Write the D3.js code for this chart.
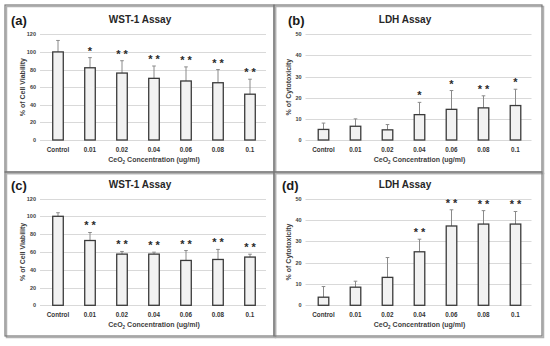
<!DOCTYPE html>
<html>
<head>
<meta charset="utf-8">
<script src="https://cdn.jsdelivr.net/npm/d3@7"></script>
<style>
  html, body { margin: 0; padding: 0; background: #fff; }
  svg { display: block; font-family: "Liberation Sans", Arial, sans-serif; }
</style>
</head>
<body>
<div id="chart"></div>
<script>
// Categories shared by all four panels
const categories = ['Control', '0.01', '0.02', '0.04', '0.06', '0.08', '0.1'];

// (a) WST-1 Assay
const wstA = [100, 82, 76, 70, 67, 65, 52];
const wstAErr = [113, 93.5, 90, 84, 83, 80, 69];
const wstAStars = ['', '*', '* *', '* *', '* *', '* *', '* *'];

// (b) LDH Assay
const ldhB = [5, 6.5, 4.8, 12, 14.5, 15.2, 16.3];
const ldhBErr = [8, 10, 7.3, 17.8, 23.4, 20.9, 24];
const ldhBStars = ['', '', '', '*', '*', '* *', '*'];

// (c) WST-1 Assay
const wstC = [100, 72.8, 57.5, 57.5, 50.4, 51.5, 54.2];
const wstCErr = [104, 81.8, 60.5, 59.7, 61.5, 62.8, 57.4];
const wstCStars = ['', '* *', '* *', '* *', '* *', '* *', '* *'];

// (d) LDH Assay
const ldhD = [3.8, 8.5, 13.1, 25.1, 37.2, 38.1, 38.1];
const ldhDErr = [8.8, 11.3, 22.4, 31, 44.8, 44.4, 44];
const ldhDStars = ['', '', '', '* *', '* *', '* *', '* *'];

const wstTicks = [0, 20, 40, 60, 80, 100, 120];
const ldhTicks = [0, 10, 20, 30, 40, 50];

const svg = d3.select('#chart').append('svg')
  .attr('width', 550).attr('height', 346);

// panel frames
const frames = [
  [5, 5, 269, 167], [274, 5, 268, 167],
  [5, 172, 269, 164], [274, 172, 268, 164]
];
frames.forEach(f => {
  svg.append('rect')
    .attr('x', f[0] + 1.5).attr('y', f[1] + 1.5)
    .attr('width', f[2]).attr('height', f[3])
    .attr('fill', 'none').attr('stroke', '#b0b0b0').attr('stroke-width', 1.5);
  svg.append('rect')
    .attr('x', f[0]).attr('y', f[1])
    .attr('width', f[2]).attr('height', f[3])
    .attr('fill', 'none').attr('stroke', '#7a7a7a').attr('stroke-width', 1.2);
});

function drawPanel(opt) {
  const g = svg.append('g');
  const x = d3.scaleBand().domain(categories)
    .range([opt.left, opt.left + 224]).paddingInner(0.67).paddingOuter(0.335);
  const y = d3.scaleLinear().domain([0, opt.max]).range([opt.bottom, opt.top]);

  // gridlines
  g.selectAll('.grid').data(opt.ticks).enter().append('line')
    .attr('x1', opt.left - 2).attr('x2', opt.left + 224)
    .attr('y1', d => Math.round(y(d)) + 0.5).attr('y2', d => Math.round(y(d)) + 0.5)
    .attr('stroke', '#d9d9d9').attr('stroke-width', 1);

  // y tick labels
  g.selectAll('.yt').data(opt.ticks).enter().append('text')
    .attr('x', opt.left - 6).attr('y', d => y(d) + 2)
    .attr('text-anchor', 'end')
    .attr('font-size', 5.5).attr('font-weight', 'bold').attr('fill', '#404040')
    .text(d => d);

  // error bars
  opt.err.forEach((e, i) => {
    const cx = x(categories[i]) + x.bandwidth() / 2;
    g.append('line')
      .attr('x1', cx).attr('x2', cx)
      .attr('y1', y(opt.values[i])).attr('y2', y(e))
      .attr('stroke', '#8a8a8a').attr('stroke-width', 1);
    g.append('line')
      .attr('x1', cx - 1.8).attr('x2', cx + 1.8)
      .attr('y1', y(e)).attr('y2', y(e))
      .attr('stroke', '#8a8a8a').attr('stroke-width', 1);
  });

  // bars
  g.selectAll('.bar').data(opt.values).enter().append('rect')
    .attr('x', (d, i) => x(categories[i]))
    .attr('y', d => y(d))
    .attr('width', x.bandwidth())
    .attr('height', d => opt.bottom - y(d))
    .attr('fill', '#f2f2f2')
    .attr('stroke', '#3a3a3a').attr('stroke-width', 1.3);

  // significance stars
  g.selectAll('.star').data(opt.stars).enter().append('text')
    .attr('x', (d, i) => x(categories[i]) + x.bandwidth() / 2)
    .attr('y', (d, i) => y(opt.err[i]) - 3)
    .attr('text-anchor', 'middle')
    .attr('font-size', 11).attr('font-weight', 'bold').attr('fill', '#2a2a2a')
    .text(d => d);

  // x tick labels
  g.selectAll('.xt').data(categories).enter().append('text')
    .attr('x', d => x(d) + x.bandwidth() / 2)
    .attr('y', opt.bottom + 12)
    .attr('text-anchor', 'middle')
    .attr('font-size', 6.3).attr('font-weight', 'bold').attr('fill', '#333')
    .text(d => d);

  // x axis title
  const xt = g.append('text')
    .attr('x', opt.left + 112).attr('y', opt.bottom + 22)
    .attr('text-anchor', 'middle')
    .attr('font-size', 7).attr('font-weight', 'bold').attr('fill', '#404040');
  xt.append('tspan').text('CeO');
  xt.append('tspan').attr('font-size', 4.5).attr('dy', 1.5).text('2');
  xt.append('tspan').attr('dy', -1.5).text(' Concentration (ug/ml)');

  // y axis title
  g.append('text')
    .attr('transform', `translate(${opt.left - 17},${(opt.top + opt.bottom) / 2}) rotate(-90)`)
    .attr('text-anchor', 'middle')
    .attr('font-size', 7).attr('font-weight', 'bold').attr('fill', '#404040')
    .text(opt.ytitle);

  // chart title
  g.append('text')
    .attr('x', opt.titleX).attr('y', opt.titleY)
    .attr('text-anchor', 'middle')
    .attr('font-size', 10).attr('font-weight', 'bold').attr('fill', '#262626')
    .text(opt.title);

  // panel letter
  g.append('text')
    .attr('x', opt.letterX).attr('y', opt.titleY + 2)
    .attr('font-size', 13).attr('font-weight', 'bold').attr('fill', '#1a1a1a')
    .text(opt.letter);
}

drawPanel({
  left: 42, top: 34.3, bottom: 140, max: 120, ticks: wstTicks,
  values: wstA, err: wstAErr, stars: wstAStars,
  ytitle: '% of Cell Viability', title: 'WST-1 Assay', titleX: 140, titleY: 23,
  letter: '(a)', letterX: 11
});
drawPanel({
  left: 307.5, top: 34.3, bottom: 140, max: 50, ticks: ldhTicks,
  values: ldhB, err: ldhBErr, stars: ldhBStars,
  ytitle: '% of Cytotoxicity', title: 'LDH Assay', titleX: 405, titleY: 23,
  letter: '(b)', letterX: 288
});
drawPanel({
  left: 42, top: 198.5, bottom: 305.3, max: 120, ticks: wstTicks,
  values: wstC, err: wstCErr, stars: wstCStars,
  ytitle: '% of Cell Viability', title: 'WST-1 Assay', titleX: 140, titleY: 188,
  letter: '(c)', letterX: 11
});
drawPanel({
  left: 307.5, top: 198.7, bottom: 305.3, max: 50, ticks: ldhTicks,
  values: ldhD, err: ldhDErr, stars: ldhDStars,
  ytitle: '% of Cytotoxicity', title: 'LDH Assay', titleX: 405, titleY: 188,
  letter: '(d)', letterX: 282
});
</script>
</body>
</html>
